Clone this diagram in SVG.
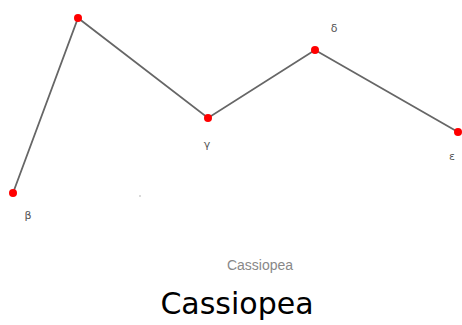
<svg xmlns="http://www.w3.org/2000/svg" width="462" height="325" viewBox="0 0 462 325">
<style>
.star{fill:#ff0000}
.lbl{font-family:"DejaVu Sans",sans-serif;font-size:11px;fill:#555}
.edge{stroke:#666;stroke-width:1.8;fill:none}
</style>
<rect width="462" height="325" fill="#fff"/>
<g id="connectors">
<polyline class="edge" points="13,193 78,18 208,118 315,50 458,132"/>
</g>
<g id="beta"><circle class="star" cx="13" cy="193" r="4"/><text class="lbl" x="28" y="219" text-anchor="middle">β</text></g>
<g id="alpha"><circle class="star" cx="78" cy="18" r="4"/></g>
<g id="gamma"><circle class="star" cx="208" cy="118" r="4"/><text class="lbl" x="207" y="148" text-anchor="middle">γ</text></g>
<g id="delta"><circle class="star" cx="315" cy="50" r="4"/><text class="lbl" x="334" y="32" text-anchor="middle">δ</text></g>
<g id="epsilon"><circle class="star" cx="458" cy="132" r="4"/><text class="lbl" x="452" y="160" text-anchor="middle">ε</text></g>
<circle cx="140" cy="196" r="0.8" fill="#aaa"/>
<text x="260" y="270" text-anchor="middle" font-family="Liberation Sans, Arial, sans-serif" font-size="14" fill="#888">Cassiopea</text>
<text x="237" y="314" text-anchor="middle" font-family="DejaVu Sans, sans-serif" font-size="30" fill="#000">Cassiopea</text>
</svg>
